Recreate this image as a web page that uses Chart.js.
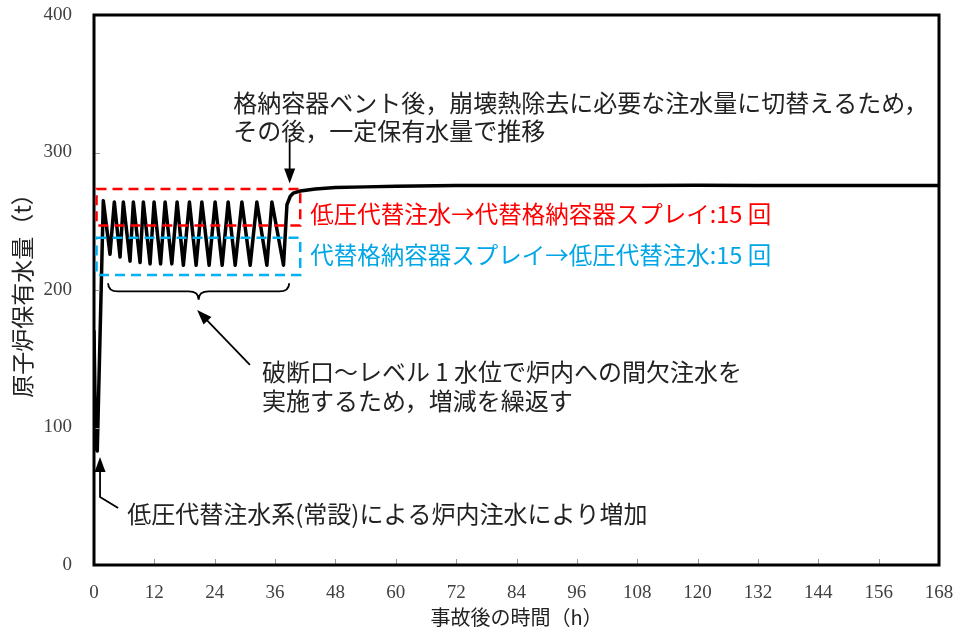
<!DOCTYPE html>
<html lang="ja">
<head>
<meta charset="utf-8">
<title>原子炉保有水量の推移</title>
<script src="https://cdn.jsdelivr.net/npm/chart.js@4.4.1/dist/chart.umd.min.js"></script>
<style>
  html, body { margin: 0; padding: 0; background: #fff; }
  canvas { display: block; }
</style>
</head>
<body>
<canvas id="inventoryChart" width="957" height="633"></canvas>
<script>
"use strict";

// Time after the accident (h) and reactor water inventory (t)
const hours = [0, 0.35, 0.65,
    1.85, 3.18, 4.04, 5.18, 5.83, 7.17, 7.82, 9.16, 9.81, 11.15,
    11.94, 13.24, 14.14, 15.47, 16.52, 17.77, 18.97, 20.30, 21.44, 22.89,
    24.08, 25.48, 26.67, 28.07, 29.40, 31.05, 32.38, 34.37, 35.37, 37.68,
    38.36, 39.0, 39.6, 41, 44, 48, 54, 60, 72, 84, 96, 108, 120, 132, 144, 156, 168];
const inventory = [170, 85, 83,
    265, 226, 264, 224, 264, 221, 264, 220, 264, 219,
    264, 219, 264, 219, 264, 218, 264, 218, 264, 218,
    264, 218, 264, 218, 264, 218, 264, 218, 264, 218,
    262, 268, 270.5, 272, 273.5, 274.5, 275, 275.5, 276, 276, 276, 276, 276.2, 276, 276, 276, 276];

const xTicks = [0, 12, 24, 36, 48, 60, 72, 84, 96, 108, 120, 132, 144, 156, 168];
const yTicks = [0, 100, 200, 300, 400];

const xTitle = "事故後の時間（h）";
const yTitle = "原子炉保有水量（t）";

// Annotation boxes, in data units: [x from, x to, y from, y to]
const redBox = [0.5, 41, 247, 273.5];
const blueBox = [0.5, 41, 211, 238];
// Brace below the oscillation: [x from, x to], [y top, y tip]
const braceX = [2.8, 38.8];
const braceY = [205, 193];

const notes = [
    { text: "格納容器ベント後，崩壊熱除去に必要な注水量に切替えるため，", x: 27.7, y: 336, color: "#222" },
    { text: "その後，一定保有水量で推移", x: 27.7, y: 315.6, color: "#222" },
    { text: "低圧代替注水→代替格納容器スプレイ:15 回", x: 43, y: 255.3, color: "#ff0000" },
    { text: "代替格納容器スプレイ→低圧代替注水:15 回", x: 43, y: 225.5, color: "#00a6e6" },
    { text: "破断口～レベル 1 水位で炉内への間欠注水を", x: 33.4, y: 140.4, color: "#222" },
    { text: "実施するため，増減を繰返す", x: 33.4, y: 119.3, color: "#222" },
    { text: "低圧代替注水系(常設)による炉内注水により増加", x: 6.6, y: 37.1, color: "#222" }
];

// Arrows as polylines in data units; the last point is the tip
const arrows = [
    [[38.9, 310], [38.9, 277.5]],
    [[31.0, 145.5], [20.5, 185.5]],
    [[4.8, 41.5], [1.2, 49.5], [1.2, 78.5]]
];

const cjkFont = "'Noto Sans CJK JP', 'Noto Sans', sans-serif";

function drawArrowHead(ctx, fromX, fromY, toX, toY) {
    const angle = Math.atan2(toY - fromY, toX - fromX);
    const len = 15;
    const half = 5.5;
    ctx.beginPath();
    ctx.moveTo(toX, toY);
    ctx.lineTo(toX - len * Math.cos(angle) + half * Math.sin(angle), toY - len * Math.sin(angle) - half * Math.cos(angle));
    ctx.lineTo(toX - len * Math.cos(angle) - half * Math.sin(angle), toY - len * Math.sin(angle) + half * Math.cos(angle));
    ctx.closePath();
    ctx.fill();
}

function dashedBox(ctx, x, y, box, color) {
    const x1 = x.getPixelForValue(box[0]);
    const x2 = x.getPixelForValue(box[1]);
    const y1 = y.getPixelForValue(box[3]);
    const y2 = y.getPixelForValue(box[2]);
    ctx.save();
    ctx.strokeStyle = color;
    ctx.lineWidth = 2.5;
    ctx.setLineDash([10, 6]);
    ctx.strokeRect(x1, y1, x2 - x1, y2 - y1);
    ctx.restore();
}

// keep the tick labels from pushing the plot area inwards
function noScalePadding(scale) {
    scale.paddingTop = 0;
    scale.paddingBottom = 0;
    scale.paddingLeft = 0;
    scale.paddingRight = 0;
}

const annotationPlugin = {
    id: "annotations",
    afterDatasetsDraw(chart) {
        const { ctx, chartArea, scales: { x, y } } = chart;

        // small inward tick marks
        ctx.save();
        ctx.strokeStyle = "#999";
        ctx.lineWidth = 1;
        xTicks.forEach(function (v) {
            const px = Math.round(x.getPixelForValue(v)) + 0.5;
            ctx.beginPath();
            ctx.moveTo(px, chartArea.bottom);
            ctx.lineTo(px, chartArea.bottom - 6);
            ctx.stroke();
        });
        yTicks.forEach(function (v) {
            const py = Math.round(y.getPixelForValue(v)) + 0.5;
            ctx.beginPath();
            ctx.moveTo(chartArea.left, py);
            ctx.lineTo(chartArea.left + 6, py);
            ctx.stroke();
        });
        ctx.restore();

        // plot frame
        ctx.save();
        ctx.strokeStyle = "#000";
        ctx.lineWidth = 3;
        ctx.strokeRect(chartArea.left, chartArea.top, chartArea.right - chartArea.left, chartArea.bottom - chartArea.top);
        ctx.restore();

        dashedBox(ctx, x, y, redBox, "#ff0000");
        dashedBox(ctx, x, y, blueBox, "#00b0f0");

        // curly brace
        const xl = x.getPixelForValue(braceX[0]);
        const xr = x.getPixelForValue(braceX[1]);
        const yt = y.getPixelForValue(braceY[0]);
        const yb = y.getPixelForValue(braceY[1]);
        const mid = (xl + xr) / 2;
        const ym = (yt + yb) / 2;
        const r = 10;
        ctx.save();
        ctx.strokeStyle = "#000";
        ctx.lineWidth = 1.8;
        ctx.beginPath();
        ctx.moveTo(xl, yt);
        ctx.quadraticCurveTo(xl, ym, xl + r, ym);
        ctx.lineTo(mid - r, ym);
        ctx.quadraticCurveTo(mid, ym, mid, yb);
        ctx.quadraticCurveTo(mid, ym, mid + r, ym);
        ctx.lineTo(xr - r, ym);
        ctx.quadraticCurveTo(xr, ym, xr, yt);
        ctx.stroke();
        ctx.restore();

        // arrows
        ctx.save();
        ctx.strokeStyle = "#000";
        ctx.fillStyle = "#000";
        ctx.lineWidth = 1.8;
        arrows.forEach(function (pts) {
            const px = pts.map(function (p) { return [x.getPixelForValue(p[0]), y.getPixelForValue(p[1])]; });
            const n = px.length;
            ctx.beginPath();
            ctx.moveTo(px[0][0], px[0][1]);
            for (let i = 1; i < n - 1; i++) {
                ctx.lineTo(px[i][0], px[i][1]);
            }
            // stop the shaft where the head starts
            const a = Math.atan2(px[n - 1][1] - px[n - 2][1], px[n - 1][0] - px[n - 2][0]);
            ctx.lineTo(px[n - 1][0] - 12 * Math.cos(a), px[n - 1][1] - 12 * Math.sin(a));
            ctx.stroke();
            drawArrowHead(ctx, px[n - 2][0], px[n - 2][1], px[n - 1][0], px[n - 1][1]);
        });
        ctx.restore();

        // notes
        ctx.save();
        ctx.textAlign = "left";
        ctx.textBaseline = "middle";
        notes.forEach(function (n) {
            const big = n.color === "#222";
            ctx.font = (big ? "24px " : "23.5px ") + cjkFont;
            ctx.fillStyle = n.color;
            ctx.fillText(n.text, x.getPixelForValue(n.x), y.getPixelForValue(n.y));
        });
        ctx.restore();

        // axis titles
        ctx.save();
        ctx.fillStyle = "#222";
        ctx.textAlign = "center";
        ctx.textBaseline = "middle";
        ctx.font = "20px " + cjkFont;
        ctx.fillText(xTitle, (chartArea.left + chartArea.right) / 2, 617);
        ctx.translate(22, (chartArea.top + chartArea.bottom) / 2);
        ctx.rotate(-Math.PI / 2);
        ctx.font = "23px " + cjkFont;
        ctx.fillText(yTitle, 0, 0);
        ctx.restore();
    }
};

const ctx = document.getElementById("inventoryChart");
new Chart(ctx, {
    type: "line",
    data: {
        datasets: [{
            data: hours.map(function (h, i) { return { x: h, y: inventory[i] }; }),
            borderColor: "#000",
            borderWidth: 3.5,
            borderJoinStyle: "round",
            borderCapStyle: "round",
            pointRadius: 0,
            tension: 0,
            fill: false
        }]
    },
    options: {
        responsive: false,
        devicePixelRatio: 1,
        animation: false,
        layout: { autoPadding: false, padding: { top: 15, right: 18, left: 0, bottom: 0 } },
        plugins: {
            legend: { display: false },
            tooltip: { enabled: false }
        },
        scales: {
            x: {
                type: "linear",
                min: 0,
                max: 168,
                afterBuildTicks: function (scale) {
                    scale.ticks = xTicks.map(function (v) { return { value: v }; });
                },
                afterFit: function (scale) {
                    scale.height = 68;
                    noScalePadding(scale);
                },
                grid: { display: false },
                border: { display: false },
                ticks: {
                    padding: 9,
                    maxRotation: 0,
                    color: "#404040",
                    font: { family: "'Liberation Serif', 'DejaVu Serif', serif", size: 19 }
                }
            },
            y: {
                min: 0,
                max: 400,
                afterBuildTicks: function (scale) {
                    scale.ticks = yTicks.map(function (v) { return { value: v }; });
                },
                afterFit: function (scale) {
                    scale.width = 94;
                    noScalePadding(scale);
                },
                grid: { display: false },
                border: { display: false },
                ticks: {
                    padding: 14,
                    color: "#404040",
                    font: { family: "'Liberation Serif', 'DejaVu Serif', serif", size: 19 }
                }
            }
        }
    },
    plugins: [annotationPlugin]
});
</script>
</body>
</html>
